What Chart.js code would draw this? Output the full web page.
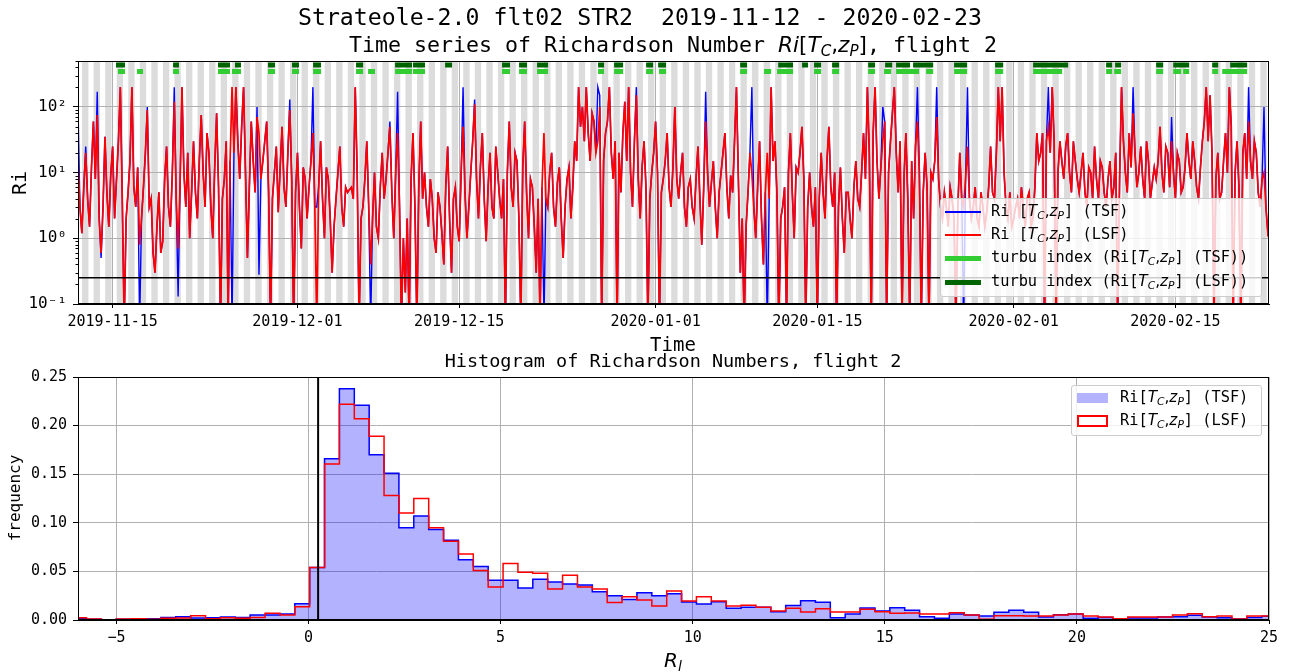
<!DOCTYPE html>
<html><head><meta charset="utf-8">
<script src="https://cdn.jsdelivr.net/npm/chart.js@4.4.0/dist/chart.umd.min.js"></script>
<style>
body{margin:0;background:#fff;}
#wrap{position:relative;width:1290px;height:672px;overflow:hidden;font-family:'DejaVu Sans Mono',monospace;color:#000;}
canvas{position:absolute;left:0;}
.t{position:absolute;white-space:pre;line-height:1;}
.c{transform:translate(-50%,-50%);}
.r{transform:translate(-50%,-50%) rotate(-90deg);}
.m{font-family:'DejaVu Sans';font-style:italic;}
.u{font-family:'DejaVu Sans';font-style:normal;}
.s{font-size:70%;position:relative;top:0.28em;font-family:'DejaVu Sans';font-style:italic;}
.lt{position:absolute;white-space:pre;line-height:1;font-size:15.3px;transform:translateY(-50%);}
.box{position:absolute;background:rgba(255,255,255,0.8);border:1px solid #cccccc;border-radius:3px;box-sizing:border-box;}
.h{position:absolute;}
</style></head>
<body><div id="wrap">
<canvas id="c1" width="1290" height="350" style="top:0"></canvas>
<canvas id="c2" width="1290" height="322" style="top:350px"></canvas>

<div class="t c" style="left:640px;top:17px;font-size:23.2px;">Strateole-2.0 flt02 STR2  2019-11-12 - 2020-02-23</div>
<div class="t c" style="left:673px;top:45px;font-size:21.6px;">Time series of Richardson Number <span class="m">Ri</span><span class="u">[</span><span class="m">T</span><span class="s">C</span><span class="u">,</span><span class="m">z</span><span class="s">P</span><span class="u">]</span>, flight 2</div>
<div class="t r" style="left:19px;top:183px;font-size:20px;">Ri</div>
<div class="t c" style="left:673px;top:344px;font-size:19px;">Time</div>
<div class="t c" style="left:673px;top:361px;font-size:18.5px;">Histogram of Richardson Numbers, flight 2</div>
<div class="t r" style="left:15px;top:498px;font-size:16px;">frequency</div>
<div class="t c" style="left:673px;top:660px;font-size:20px;"><span class="m">R</span><span class="s">l</span></div>

<!-- top legend -->
<div class="box" style="left:940px;top:198px;width:322px;height:99px;"></div>
<div class="h" style="left:945px;top:211px;width:36px;height:1.5px;background:#0000ff;"></div>
<div class="lt" style="left:991px;top:212px;">Ri [<span class="m">T</span><span class="s">C</span><span class="u">,</span><span class="m">z</span><span class="s">P</span>] (TSF)</div>
<div class="h" style="left:945px;top:234px;width:36px;height:1.5px;background:#ff0000;"></div>
<div class="lt" style="left:991px;top:235px;">Ri [<span class="m">T</span><span class="s">C</span><span class="u">,</span><span class="m">z</span><span class="s">P</span>] (LSF)</div>
<div class="h" style="left:945px;top:255.5px;width:36px;height:5px;background:#32cd32;"></div>
<div class="lt" style="left:991px;top:258px;">turbu index (Ri[<span class="m">T</span><span class="s">C</span><span class="u">,</span><span class="m">z</span><span class="s">P</span>] (TSF))</div>
<div class="h" style="left:945px;top:279.5px;width:36px;height:5px;background:#006400;"></div>
<div class="lt" style="left:991px;top:282px;">turbu index (Ri[<span class="m">T</span><span class="s">C</span><span class="u">,</span><span class="m">z</span><span class="s">P</span>] (LSF))</div>

<!-- bottom legend -->
<div class="box" style="left:1071px;top:385px;width:191px;height:51px;"></div>
<div class="h" style="left:1077px;top:393px;width:31px;height:10px;background:#b3b3ff;"></div>
<div class="lt" style="left:1120px;top:398px;">Ri[<span class="m">T</span><span class="s">C</span><span class="u">,</span><span class="m">z</span><span class="s">P</span>] (TSF)</div>
<div class="h" style="left:1077px;top:415px;width:31px;height:12px;background:#fff;border:2px solid #ff0000;box-sizing:border-box;"></div>
<div class="lt" style="left:1120px;top:421px;">Ri[<span class="m">T</span><span class="s">C</span><span class="u">,</span><span class="m">z</span><span class="s">P</span>] (LSF)</div>
</div>

<script>
// ---------------- DATA ----------------
// time series: one sample every 4 hours, starting 2019-11-12 00:00 (day 0)
const sampleStepDays = 1/6;
const riLSF = [
15,3,1.2,6,20,4,1.5,12,60,8,75,2,0.6,3,35,5,1.5,9,25,2,
8,30,200,4,0.05,2,5,15,200,6,3,12,0.8,2,6,20,90,3,4,0.6,
0.3,1.5,5,0.6,0.9,8,25,3,1.5,10,120,4,0.7,6,200,10,3,20,1,5,
30,5,2,15,75,10,3,40,20,3,1,12,80,6,0.05,4,8,30,0.05,15,
200,20,200,30,8,50,200,10,0.5,6,60,15,5,70,40,8,15,30,60,5,
0.05,4,10,25,2.5,12,50,6,3,20,90,8,0.05,5,20,3,0.7,12,8,2,
6,15,40,3,0.05,6,30,4,1,12,8,2,0.3,1.5,4,10,25,3,1.5,6,
5,5.5,6,4,200,10,0.05,2,3,8,30,3,0.4,2,10,1.5,1,6,20,4,
8,20,50,5,1,10,40,3,0.05,1,0.15,2,0.05,8,40,3,0.05,6,60,4,
10,3,1.5,8,4,1,0.6,5,3,1.2,0.4,6,25,2,0.3,4,6,1.5,0.9,10,
50,5,1,3,10,30,110,8,2,12,40,4,0.9,6,20,3,2,25,10,4,
2,8,0.05,10,60,6,3,20,15,2,0.05,12,60,5,1,8,6,1.5,0.3,4,
0.05,6,40,4,3,10,20,3,1.5,7,12,2,0.5,3,8,12,2,6,30,15,
200,50,100,30,200,40,15,80,60,20,30,100,0.05,15,40,60,200,20,8,30,
0.05,20,5,40,120,15,200,10,3,30,150,8,2,12,30,6,0.05,4,10,20,
60,10,0.05,5,8,15,40,6,3,12,100,8,4,10,20,3,1.5,6,8,3,
2,8,25,4,0.8,6,60,10,3,7,15,3,1,5,10,20,40,6,2,9,
5,30,200,8,0.3,2,0.05,1.5,5,20,10,3,1,6,30,2,0.4,5,20,4,
200,15,30,5,0.05,2,3,6,0.05,10,40,5,1,12,10,20,50,8,0.05,3,
10,3,1.5,6,0.05,4,20,5,2,15,50,6,3,10,0.05,3,12,2,0.6,5,
5,2,1,6,15,4,3,10,40,8,200,20,0.05,40,200,15,4,12,30,60,
0.05,10,30,80,200,20,5,30,0.05,8,40,4,0.05,15,2,25,60,10,0.05,5,
20,6,0.05,10,8,15,70,8,3,2,5,3,1.5,6,4,2,0.05,3,20,4,
3,8,25,4,2,3,6,2,1.5,5,3,1.5,2.5,6,25,5,4,20,200,30,
200,10,3,2,5,1.5,2,3,4,2,6,3,1.5,4,5,1.5,2,6,40,15,
20,40,0.05,30,50,20,200,30,0.05,10,30,15,8,25,40,10,5,30,15,8,
5,10,20,5,3,12,10,4,25,8,4,15,12,5,3,8,15,4,6,20,
0.05,8,200,30,10,5,40,12,80,20,6,10,25,8,4,30,15,4,7,12,
8,15,50,10,5,25,20,6,30,10,4,20,15,5,6,12,40,15,8,30,
15,6,4,12,30,60,200,30,150,20,0.05,8,20,4,5,15,40,10,200,50,
0.05,10,30,6,0.05,20,40,8,60,15,8,30,20,5,3,8,10,3,1.2,1.5
];
const riTSF = [
100,3,1.2,6,25,4,1.5,12,60,8,170,2,0.5,3,35,5,1.5,9,25,2,
8,30,200,4,0.05,2,5,15,200,6,3,12,0.05,2,6,20,100,3,4,0.6,
0.3,1.5,5,0.6,0.9,8,25,3,1.5,10,200,4,0.13,6,200,10,3,20,1,5,
30,5,2,15,75,10,3,40,20,3,1,12,80,6,0.05,4,8,30,0.05,15,
0.05,20,200,30,8,50,200,10,0.5,6,60,15,5,100,0.28,8,15,30,60,5,
0.05,4,10,25,2.5,12,50,6,3,20,130,8,0.05,5,20,3,0.7,12,8,2,
6,15,200,3,3,6,30,4,1,12,8,2,0.3,1.5,4,10,25,3,1.5,6,
5,5.5,6,4,200,10,0.05,2,3,8,30,3,0.05,2,10,1.5,1,6,20,4,
8,20,60,5,1,10,170,3,0.05,1,0.15,2,0.05,8,40,3,0.05,6,60,4,
10,3,1.5,8,4,1,0.6,5,3,1.2,0.4,6,25,2,0.3,4,6,1.5,0.9,10,
200,5,1,3,10,30,130,8,2,12,40,4,0.9,6,20,3,2,25,10,4,
2,8,0.05,10,60,6,3,20,15,2,0.05,12,60,5,1,8,6,1.5,0.3,4,
0.05,6,0.05,4,3,10,20,3,1.5,7,12,2,0.5,3,8,12,2,6,30,15,
200,50,100,30,200,40,15,80,60,20,200,150,0.05,15,40,60,200,20,8,30,
0.05,20,5,40,120,15,200,10,3,30,200,8,2,12,30,6,0.05,4,10,20,
60,10,0.05,5,8,15,40,6,3,12,100,8,4,10,20,3,1.5,6,8,3,
2,8,25,4,0.8,6,170,10,3,7,15,3,1,5,10,20,40,6,2,9,
5,30,200,8,0.3,2,0.05,1.5,5,20,200,3,1,6,30,2,0.4,5,0.05,4,
200,15,30,5,0.05,2,3,6,0.05,10,40,5,1,12,10,20,50,8,0.05,3,
10,3,1.5,6,0.05,4,20,5,2,15,50,6,3,10,0.05,3,12,2,0.6,5,
5,2,1,6,15,4,3,10,40,8,200,20,0.05,40,200,15,4,12,100,60,
0.05,10,30,80,200,20,5,30,0.05,8,40,4,0.05,15,2,25,200,10,0.05,5,
20,6,0.05,10,8,15,200,8,3,2,5,3,1.5,6,4,2,0.05,3,20,4,
0.05,8,200,4,2,3,6,2,1.5,5,3,1.5,2.5,6,25,5,4,20,200,30,
200,10,3,2,5,1.5,2,3,4,2,6,3,1.5,4,5,1.5,2,6,40,15,
20,40,0.05,30,200,20,200,30,0.05,10,30,15,8,25,40,10,5,30,15,8,
5,10,20,5,3,12,10,4,25,8,4,15,12,5,3,8,15,4,6,20,
0.05,8,200,30,10,5,40,12,200,20,6,10,25,8,4,30,15,4,7,12,
8,15,50,10,5,25,20,6,70,10,4,20,15,5,6,12,40,15,8,30,
15,6,4,12,30,60,200,30,150,20,0.05,8,20,4,5,15,40,10,200,50,
0.05,10,30,6,0.05,20,40,8,200,15,8,30,20,5,3,8,100,3,1.2,1.5
];
// turbulence flags: [start day, end day]
const turbuTSF = [[3.46,4.07],[5.11,5.63],[8.23,8.74],[12.12,13.16],[13.33,14.11],[16.45,17.06],[18.53,19.13],[20.35,21.04],[24.07,24.68],[25.11,25.71],[27.45,28.92],[29.0,30.04],[36.71,37.40],[38.18,38.87],[39.74,40.69],[45.02,45.54],[46.41,47.19],[49.18,49.78],[50.30,50.91],[57.32,57.92],[59.39,60.0],[60.52,61.90],[63.72,64.33],[65.28,65.89],[68.40,69.00],[69.78,70.39],[70.82,72.81],[73.42,74.03],[75.84,76.97],[79.39,80.09],[82.68,85.19],[89.00,89.52],[89.70,90.30],[93.33,93.94],[94.81,95.50],[95.67,96.19],[98.18,98.70],[99.05,101.21]];
const turbuLSF = [[3.29,4.07],[8.23,8.74],[12.12,13.16],[13.59,14.11],[16.45,17.06],[18.53,19.13],[20.35,21.04],[24.07,24.68],[27.45,28.92],[29.0,30.04],[31.78,32.38],[36.71,37.40],[38.18,38.87],[39.74,40.69],[45.02,45.54],[46.41,47.19],[49.18,49.78],[50.22,50.91],[57.32,57.92],[60.61,61.90],[62.68,63.20],[63.72,64.33],[65.28,65.89],[68.40,69.00],[69.87,70.48],[70.82,72.03],[72.29,74.03],[75.84,76.97],[79.39,80.09],[82.68,85.71],[89.00,89.52],[89.78,90.30],[93.33,93.94],[94.81,96.19],[98.18,98.70],[99.74,101.21]];
const timeTickDays = [3,19,33,50,64,81,95];
const timeTickLabels = ['2019-11-15','2019-12-01','2019-12-15','2020-01-01','2020-01-15','2020-02-01','2020-02-15'];
const riTickValues = [0.1,1,10,100];
const riTickLabels = ['10\u207b\u00b9','10\u2070','10\u00b9','10\u00b2'];
const riThreshold = 0.25;

// histogram
const binEdges = [-6.165,-5.778,-5.391,-5.004,-4.616,-4.229,-3.842,-3.455,-3.068,-2.680,-2.293,-1.906,-1.519,-1.132,-0.744,-0.357,
0.030,0.417,0.804,1.192,1.579,1.966,2.353,2.740,3.128,3.515,3.902,4.289,4.676,5.064,5.451,5.838,6.225,6.612,7.000,7.387,7.774,8.161,8.548,8.936,
9.323,9.710,10.097,10.484,10.872,11.259,11.646,12.033,12.420,12.808,13.195,13.582,13.969,14.356,14.744,15.131,15.518,15.905,16.292,16.680,17.067,
17.454,17.841,18.228,18.616,19.003,19.390,19.777,20.164,20.552,20.939,21.326,21.713,22.100,22.488,22.875,23.262,23.649,24.036,24.424,24.811,25.198];
const histTSF = [0.0017,0.0007,0.0003,0.0007,0.001,0.0012,0.0027,0.0034,0.002,0.0024,0.003,0.0027,0.0051,0.0051,0.0062,0.0168,
0.054,0.166,0.238,0.221,0.170,0.151,0.095,0.107,0.093,0.082,0.062,0.055,0.041,0.041,0.033,0.042,0.039,0.037,0.036,0.029,0.025,0.021,0.028,0.025,
0.027,0.0185,0.0165,0.0189,0.012,0.013,0.013,0.0086,0.015,0.0199,0.0182,0.0024,0.0062,0.0123,0.0093,0.0127,0.010,0.0034,0.0017,0.0062,0.0051,
0.0041,0.0079,0.010,0.0079,0.0031,0.0055,0.0062,0.0017,0.0027,0.0007,0.002,0.002,0.0031,0.0034,0.0048,0.0031,0.0024,0.001,0.0027,0.0038];
const histLSF = [0.0024,0.001,0.0003,0.001,0.0012,0.0007,0.0017,0.002,0.0045,0.0014,0.0024,0.0017,0.0027,0.0069,0.0051,0.0137,
0.054,0.1605,0.222,0.207,0.189,0.128,0.110,0.125,0.095,0.081,0.068,0.051,0.034,0.058,0.049,0.048,0.032,0.046,0.034,0.032,0.018,0.024,0.0206,0.0144,
0.0298,0.0195,0.024,0.0195,0.0144,0.0151,0.013,0.0093,0.012,0.0082,0.0117,0.0082,0.0082,0.011,0.0086,0.0069,0.0072,0.0062,0.0062,0.0075,0.0051,
0.0007,0.0045,0.0045,0.0041,0.0041,0.0051,0.0062,0.0041,0.0031,0.0014,0.0031,0.0031,0.0031,0.0051,0.0065,0.0034,0.0041,0.001,0.0041,0.0041];
const histXTicks = [-5,0,5,10,15,20,25];
const histXLabels = ['\u22125','0','5','10','15','20','25'];
const histYTicks = [0,0.05,0.1,0.15,0.2,0.25];
const histYLabels = ['0.00','0.05','0.10','0.15','0.20','0.25'];

// ---------------- STYLE / LAYOUT ----------------
const nightOffset = 0.35, nightLength = 0.55;
const turbuLevelLSF = 433, turbuLevelTSF = 345;
const GRID = '#b0b0b0';
Chart.defaults.font.family = "'DejaVu Sans Mono', monospace";
Chart.defaults.color = '#000';

const tsPoints = arr => arr.map((v, i) => ({x: i * sampleStepDays, y: v}));
const segPoints = (segs, lvl) => { const o = []; segs.forEach(([a, b]) => { o.push({x:a,y:lvl},{x:b,y:lvl},{x:b,y:null}); }); return o; };
const histPoints = f => { const p = f.map((v, k) => ({x: binEdges[k], y: v})); p.push({x: binEdges[f.length], y: f[f.length - 1]}); return p; };

const frame = (ctx, a) => { ctx.save(); ctx.strokeStyle = '#000'; ctx.lineWidth = 1; ctx.strokeRect(Math.round(a.left)+0.5, Math.round(a.top)+0.5, Math.round(a.width)-1, Math.round(a.height)-1); ctx.restore(); };

const topDeco = {
  id: 'topDeco',
  beforeDraw(chart) {
    const {ctx, chartArea: a, scales: {x}} = chart;
    ctx.save(); ctx.beginPath(); ctx.rect(a.left, a.top, a.width, a.height); ctx.clip();
    ctx.fillStyle = '#dcdcdc';
    for (let d = -1; d <= 104; d++) {
      const x0 = x.getPixelForValue(d + nightOffset), x1 = x.getPixelForValue(d + nightOffset + nightLength);
      ctx.fillRect(x0, a.top, x1 - x0, a.height);
    }
    ctx.restore();
  },
  afterDatasetsDraw(chart) {
    const {ctx, chartArea: a, scales: {y}} = chart;
    const py = y.getPixelForValue(riThreshold);
    ctx.save(); ctx.strokeStyle = '#000'; ctx.lineWidth = 1.5;
    ctx.beginPath(); ctx.moveTo(a.left, py); ctx.lineTo(a.right, py); ctx.stroke(); ctx.restore();
  },
  afterDraw(chart) {
    const {ctx, chartArea: a, scales: {y}} = chart;
    frame(ctx, a);
    ctx.save(); ctx.strokeStyle = '#000'; ctx.lineWidth = 1;
    for (let e = -1; e <= 2; e++) for (let m = 2; m <= 9; m++) {
      const v = m * Math.pow(10, e); if (v > y.max) continue;
      const py = Math.round(y.getPixelForValue(v)) + 0.5;
      ctx.beginPath(); ctx.moveTo(a.left - 2.5, py); ctx.lineTo(a.left, py); ctx.stroke();
    }
    ctx.restore();
  }
};

new Chart(document.getElementById('c1'), {
  type: 'line',
  data: { datasets: [
    {data: segPoints(turbuLSF, turbuLevelLSF), borderColor: '#006400', borderWidth: 5, pointRadius: 0, borderCapStyle: 'butt', spanGaps: false, order: 0},
    {data: segPoints(turbuTSF, turbuLevelTSF), borderColor: '#32cd32', borderWidth: 5, pointRadius: 0, borderCapStyle: 'butt', spanGaps: false, order: 0},
    {data: tsPoints(riLSF), borderColor: '#ff0000', borderWidth: 1.7, pointRadius: 0, order: 1},
    {data: tsPoints(riTSF), borderColor: '#0000ff', borderWidth: 1.4, pointRadius: 0, order: 2}
  ]},
  options: {
    animation: false, responsive: false, devicePixelRatio: 1,
    plugins: {legend: {display: false}, tooltip: {enabled: false}},
    layout: {padding: {left: 0, right: 21, top: 61, bottom: 0}},
    scales: {
      x: {type: 'linear', min: 0, max: 103.1,
        afterBuildTicks: s => { s.ticks = timeTickDays.map(v => ({value: v})); },
        afterFit: s => { s.height = 46; },
        ticks: {callback: (v, i) => timeTickLabels[i], autoSkip: false, maxRotation: 0, font: {size: 15}, padding: 5},
        grid: {color: GRID, tickColor: '#000', tickLength: 4, lineWidth: 1},
        border: {color: '#000'}},
      y: {type: 'logarithmic', min: 0.1, max: 500,
        afterBuildTicks: s => { s.ticks = riTickValues.map(v => ({value: v, major: true})); },
        afterFit: s => { s.width = 78; },
        ticks: {callback: (v, i) => riTickLabels[i], autoSkip: false, font: {size: 16}, padding: 6},
        grid: {color: GRID, tickColor: '#000', tickLength: 5, lineWidth: 1},
        border: {color: '#000'}}
    }
  },
  plugins: [topDeco]
});

const histDeco = {
  id: 'histDeco',
  afterDatasetsDraw(chart) {
    const {ctx, chartArea: a, scales: {x}} = chart;
    const px = x.getPixelForValue(riThreshold);
    ctx.save(); ctx.strokeStyle = '#000'; ctx.lineWidth = 2;
    ctx.beginPath(); ctx.moveTo(px, a.top); ctx.lineTo(px, a.bottom); ctx.stroke(); ctx.restore();
  },
  afterDraw(chart) { frame(chart.ctx, chart.chartArea); }
};

new Chart(document.getElementById('c2'), {
  type: 'line',
  data: { datasets: [
    {data: histPoints(histLSF), stepped: true, borderColor: '#ff0000', borderWidth: 1.5, pointRadius: 0, fill: false, order: 1},
    {data: histPoints(histTSF), stepped: true, borderColor: '#0000ff', borderWidth: 1.5, pointRadius: 0, fill: 'origin', backgroundColor: 'rgba(0,0,255,0.3)', order: 2}
  ]},
  options: {
    animation: false, responsive: false, devicePixelRatio: 1,
    plugins: {legend: {display: false}, tooltip: {enabled: false}},
    layout: {padding: {left: 0, right: 21, top: 27, bottom: 0}},
    scales: {
      x: {type: 'linear', min: -6, max: 25,
        afterBuildTicks: s => { s.ticks = histXTicks.map(v => ({value: v})); },
        afterFit: s => { s.height = 52; },
        ticks: {callback: (v, i) => histXLabels[i], autoSkip: false, maxRotation: 0, font: {size: 15}, padding: 5},
        grid: {color: GRID, tickColor: '#000', tickLength: 4, lineWidth: 1},
        border: {color: '#000'}},
      y: {type: 'linear', min: 0, max: 0.25,
        afterBuildTicks: s => { s.ticks = histYTicks.map(v => ({value: v})); },
        afterFit: s => { s.width = 78; },
        ticks: {callback: (v, i) => histYLabels[i], autoSkip: false, font: {size: 15}, padding: 6},
        grid: {color: GRID, tickColor: '#000', tickLength: 5, lineWidth: 1},
        border: {color: '#000'}}
    }
  },
  plugins: [histDeco]
});
</script>
</body></html>
